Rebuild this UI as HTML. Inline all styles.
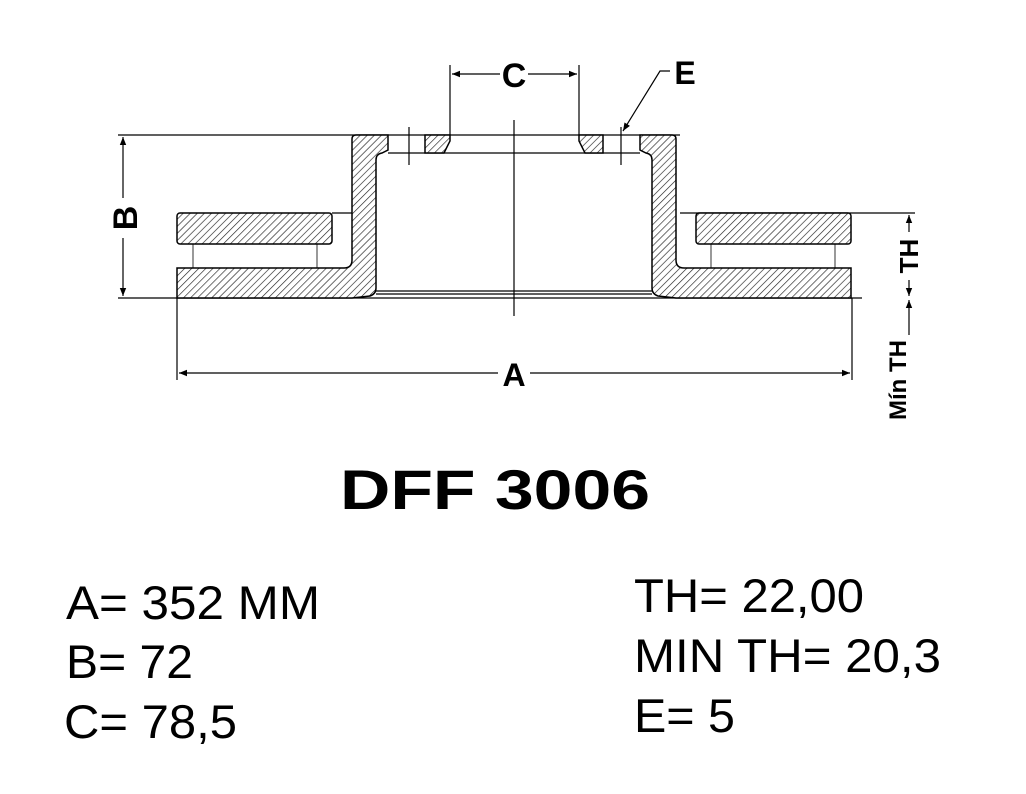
<!DOCTYPE html>
<html><head><meta charset="utf-8"><style>
html,body{margin:0;padding:0;background:#fff;}
svg{display:block;}
text{font-family:"Liberation Sans",sans-serif;}
</style></head><body>
<svg width="1026" height="794" viewBox="0 0 1026 794" xmlns="http://www.w3.org/2000/svg">
<defs>
<pattern id="h" patternUnits="userSpaceOnUse" width="5" height="5" patternTransform="rotate(45)">
<rect width="5" height="5" fill="#fff"/>
<line x1="0" y1="0" x2="0" y2="5" stroke="#222" stroke-width="1.3"/>
</pattern>
<marker id="ar" viewBox="0 0 10 10" refX="10" refY="5" markerWidth="12" markerHeight="8" orient="auto-start-reverse" markerUnits="userSpaceOnUse">
<path d="M0,1 L10,5 L0,9 z" fill="#000"/>
</marker>
</defs>
<g stroke="#000" stroke-width="1.2" fill="none">
<line x1="118" y1="135" x2="680" y2="135"/>
<line x1="118" y1="298" x2="862" y2="298"/>
<line x1="680" y1="213" x2="915" y2="213"/>
<line x1="514" y1="120" x2="514" y2="316"/>
<line x1="388" y1="153" x2="640" y2="153"/>
<line x1="376" y1="291" x2="652" y2="291"/>
<line x1="376" y1="294" x2="652" y2="294"/>
<line x1="332" y1="213" x2="352" y2="213"/>
<line x1="193" y1="244" x2="193" y2="268" stroke-width="0.8"/>
<line x1="317" y1="244" x2="317" y2="268" stroke-width="0.8"/>
<line x1="711" y1="244" x2="711" y2="268" stroke-width="0.8"/>
<line x1="835" y1="244" x2="835" y2="268" stroke-width="0.8"/>
<line x1="409" y1="127" x2="409" y2="165"/>
<line x1="621" y1="127" x2="621" y2="165"/>
<line x1="450" y1="65" x2="450" y2="135"/>
<line x1="579" y1="65" x2="579" y2="135"/>
<line x1="452" y1="74" x2="500" y2="74" marker-start="url(#ar)"/>
<line x1="528" y1="74" x2="577" y2="74" marker-end="url(#ar)"/>
<polyline points="670,71 660,71 623,131" marker-end="url(#ar)"/>
<line x1="123" y1="137" x2="123" y2="198" marker-start="url(#ar)"/>
<line x1="123" y1="238" x2="123" y2="296" marker-end="url(#ar)"/>
<line x1="177" y1="298" x2="177" y2="380"/>
<line x1="852" y1="298" x2="852" y2="380"/>
<line x1="179" y1="373" x2="498" y2="373" marker-start="url(#ar)"/>
<line x1="530" y1="373" x2="850" y2="373" marker-end="url(#ar)"/>
<line x1="909" y1="215" x2="909" y2="232" marker-start="url(#ar)"/>
<line x1="909" y1="280" x2="909" y2="296" marker-end="url(#ar)"/>
<line x1="909" y1="300" x2="909" y2="335" marker-start="url(#ar)"/>
</g>
<g stroke="#000" stroke-width="1.5" fill="url(#h)">
<path d="M352,139 Q352,135 356,135 L388,135 L388,150 L382,153 Q376,154 376,160 L376,288 Q376,294 370,296 L352,298 L177,298 L177,268 L344,268 Q352,268 352,260 Z"/>
<rect x="177" y="213" width="155" height="31" rx="3"/>
<path d="M425,135 L450,135 L450,141 L444,153 L425,153 Z"/>
<path d="M676,139 Q676,135 672,135 L640,135 L640,150 L646,153 Q652,154 652,160 L652,288 Q652,294 658,296 L676,298 L851,298 L851,268 L684,268 Q676,268 676,260 Z"/>
<rect x="696" y="213" width="155" height="31" rx="3"/>
<path d="M603,135 L579,135 L579,141 L585,153 L603,153 Z"/>
</g>
<g font-weight="bold" fill="#000">
<text x="514" y="87" font-size="34" text-anchor="middle">C</text>
<text x="685" y="84" font-size="32" text-anchor="middle">E</text>
<text x="514" y="386" font-size="32" text-anchor="middle">A</text>
<text transform="translate(137,218) rotate(-90)" font-size="34" text-anchor="middle">B</text>
<text transform="translate(918,256) rotate(-90)" font-size="26" text-anchor="middle">TH</text>
<text transform="translate(906,380) rotate(-90)" font-size="24" text-anchor="middle">Mín TH</text>
<text x="340" y="509" font-size="56" textLength="310" lengthAdjust="spacingAndGlyphs">DFF  3006</text>
</g>
<g fill="#000" font-size="47">
<text x="66" y="619" textLength="254" lengthAdjust="spacingAndGlyphs">A= 352 MM</text>
<text x="66" y="678" textLength="127" lengthAdjust="spacingAndGlyphs">B= 72</text>
<text x="64" y="738" textLength="173" lengthAdjust="spacingAndGlyphs">C= 78,5</text>
<text x="634" y="612" textLength="230" lengthAdjust="spacingAndGlyphs">TH= 22,00</text>
<text x="634" y="672" textLength="307" lengthAdjust="spacingAndGlyphs">MIN TH= 20,3</text>
<text x="634" y="732" textLength="101" lengthAdjust="spacingAndGlyphs">E= 5</text>
</g>
</svg>
</body></html>
